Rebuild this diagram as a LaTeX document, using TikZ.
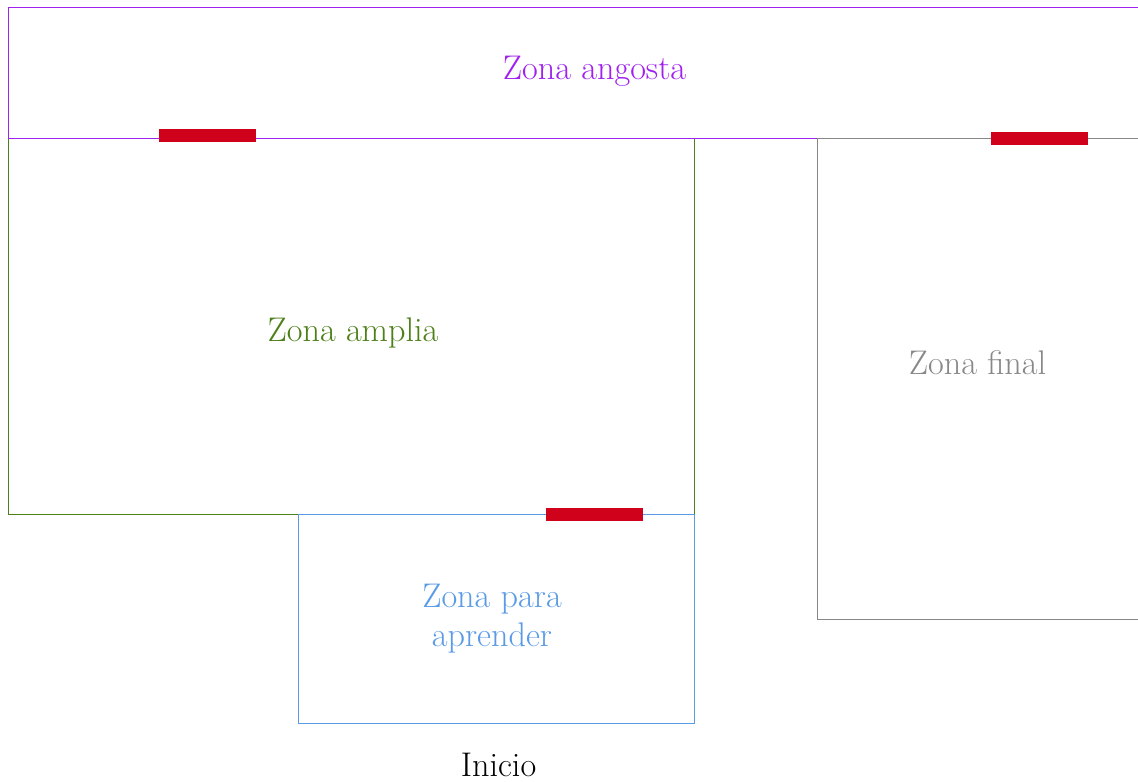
\documentclass[tikz,border=0pt]{standalone}
\usepackage{tikz}
\definecolor{zpurple}{HTML}{A020F0}
\definecolor{zgreen}{HTML}{4D8019}
\definecolor{zblue}{HTML}{5B9BE6}
\definecolor{zgray}{HTML}{888888}
\definecolor{zred}{HTML}{D0021B}
\tikzset{
  zonebox/.style={line width=0.5pt},
  zonelabel/.style={font=\fontsize{17.1}{17.1}\selectfont, inner sep=0pt, anchor=base},
  doorbar/.style={fill=zred, draw=none}
}
\begin{document}
\begin{tikzpicture}[x=0.5pt, y=-0.5pt]
  \useasboundingbox (0,0) rectangle (1138,781);
  \clip (0,0) rectangle (1138,781);
  % zone outlines
  \draw[zonebox, draw=zgreen] (8,138) rectangle (694,514);
  \draw[zonebox, draw=zpurple] (8,8) rectangle (1180,138);
  \draw[zonebox, draw=zblue] (298,514) rectangle (694,723);
  \draw[zonebox, draw=zgray] (817,138) rectangle (1180,619);
  % doors between zones
  \fill[doorbar] (159,129) rectangle (256,142);
  \fill[doorbar] (991,132) rectangle (1088,145);
  \fill[doorbar] (546,508) rectangle (643,521);
  % zone names
  \node[zonelabel, text=zpurple] (angosta) at (594.5,80) {Zona angosta};
  \node[zonelabel, text=zgreen] (amplia) at (353,341.5) {Zona amplia};
  \node[zonelabel, text=zgray] (final) at (977.5,374.5) {Zona final};
  \node[zonelabel, text=zblue] (aprender1) at (492,607.5) {Zona para};
  \node[zonelabel, text=zblue] (aprender2) at (492,646.5) {aprender};
  \node[zonelabel, text=black] (inicio) at (498.5,776) {Inicio};
\end{tikzpicture}
\end{document}
